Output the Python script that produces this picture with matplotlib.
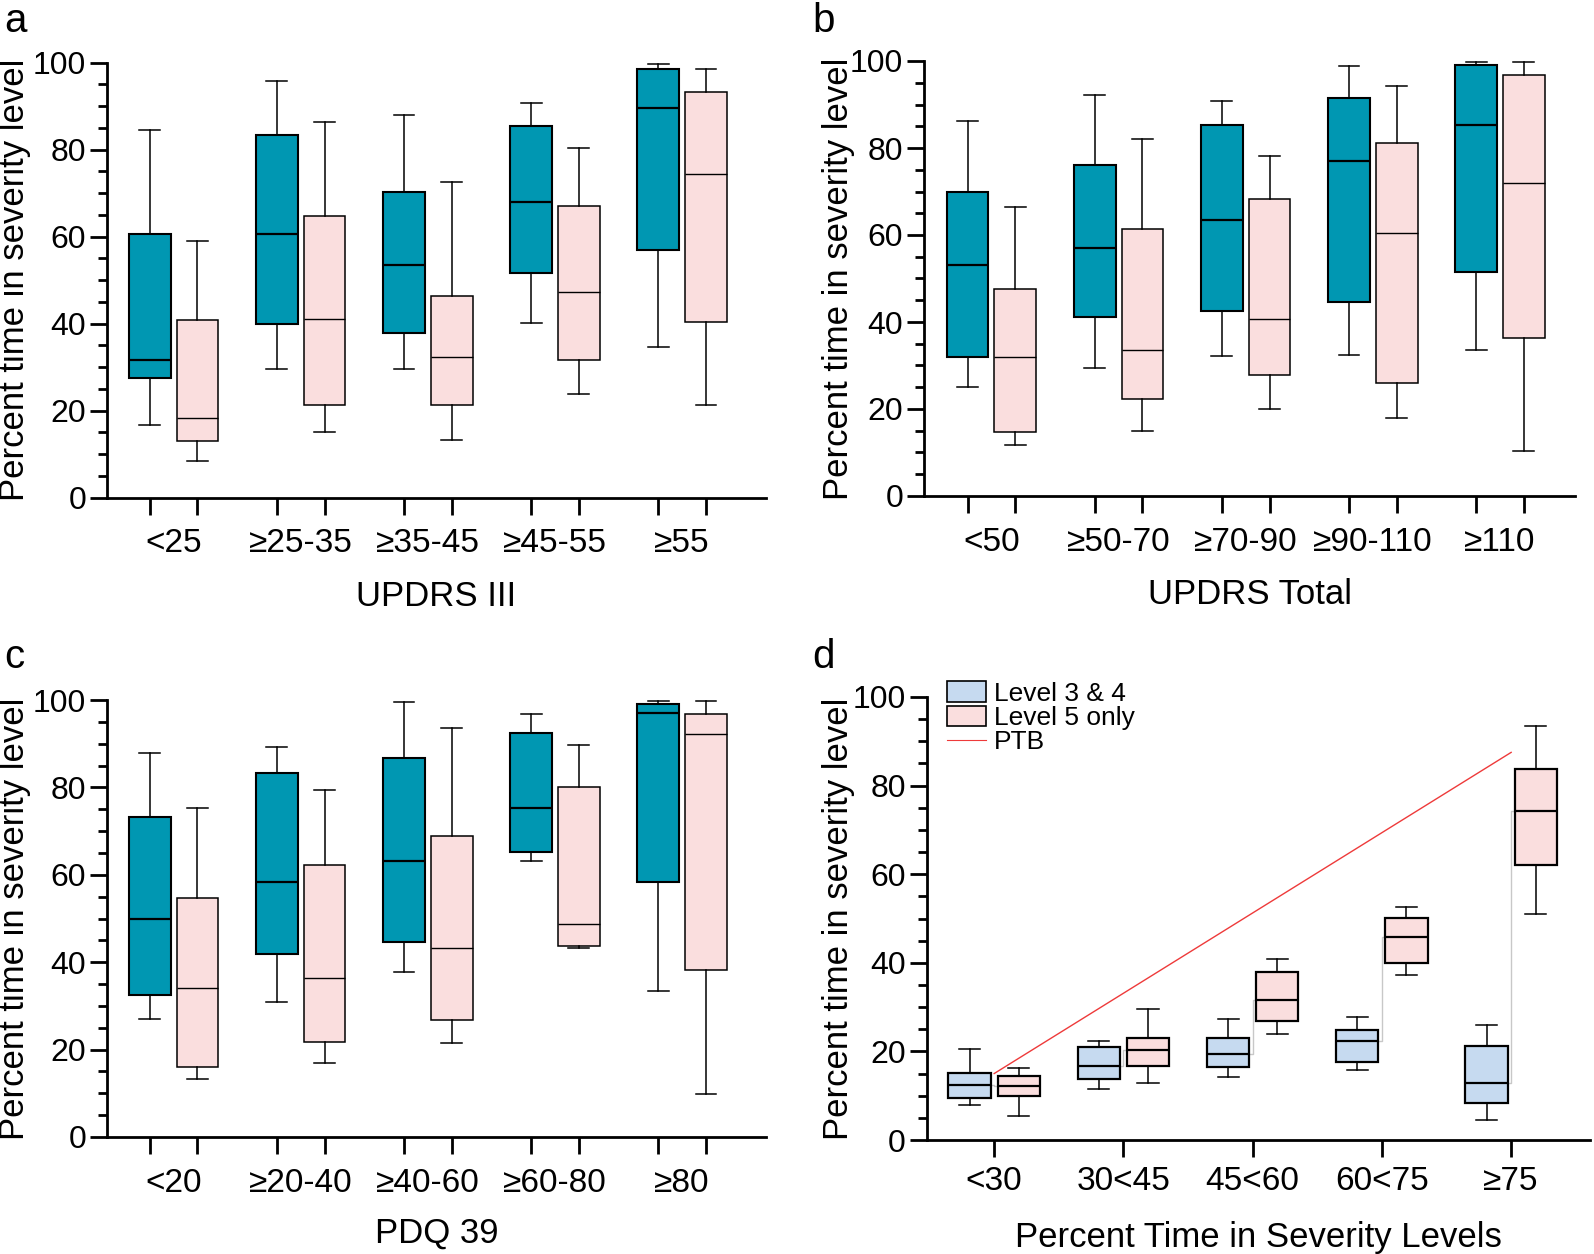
import numpy as np
import matplotlib
matplotlib.use("Agg")
import matplotlib.pyplot as plt
from matplotlib.ticker import FixedLocator, MultipleLocator, NullFormatter, FixedFormatter
from matplotlib.patches import Patch
from matplotlib.lines import Line2D

plt.rcParams['font.family'] = ['Liberation Sans', 'DejaVu Sans']

# box stats: (whisker low, Q1, median, Q3, whisker high)
updrs3_cats = ['<25', '≥25-35', '≥35-45', '≥45-55', '≥55']
updrs3_teal = [(16.6, 27.6, 31.6, 60.6, 84.5), (29.7, 40.0, 60.6, 83.3, 95.9),
               (29.7, 37.8, 53.4, 70.2, 87.9), (40.1, 51.6, 68.0, 85.4, 90.7),
               (34.7, 57.0, 89.5, 98.6, 99.8)]
updrs3_pink = [(8.5, 13.0, 18.4, 40.9, 59.0), (15.0, 21.3, 41.1, 64.7, 86.3),
               (13.3, 21.3, 32.4, 46.4, 72.6), (23.9, 31.7, 47.3, 67.0, 80.5),
               (21.3, 40.4, 74.4, 93.3, 98.6)]

updrs_total_cats = ['<50', '≥50-70', '≥70-90', '≥90-110', '≥110']
updrs_total_teal = [(25.1, 32.0, 53.2, 69.8, 86.1), (29.5, 41.1, 57.0, 76.2, 92.2),
                    (32.2, 42.6, 63.5, 85.3, 90.9), (32.5, 44.5, 77.0, 91.6, 98.9),
                    (33.5, 51.5, 85.3, 99.1, 99.7)]
updrs_total_pink = [(11.8, 14.7, 31.9, 47.6, 66.4), (14.9, 22.3, 33.6, 61.3, 82.0),
                    (19.9, 27.9, 40.8, 68.2, 78.1), (17.9, 25.9, 60.5, 81.2, 94.3),
                    (10.3, 36.3, 72.0, 96.8, 99.8)]

pdq_cats = ['<20', '≥20-40', '≥40-60', '≥60-80', '≥80']
pdq_teal = [(27.0, 32.5, 50.0, 73.2, 87.8), (30.8, 41.8, 58.3, 83.4, 89.2),
            (37.7, 44.7, 63.2, 86.8, 99.5), (63.1, 65.3, 75.2, 92.4, 96.9),
            (33.5, 58.3, 97.1, 99.1, 99.8)]
pdq_pink = [(13.2, 16.0, 34.1, 54.6, 75.2), (17.0, 21.8, 36.3, 62.2, 79.4),
            (21.6, 26.7, 43.2, 68.9, 93.7), (43.2, 43.8, 48.7, 80.0, 89.6),
            (9.8, 38.3, 92.3, 96.9, 99.8)]

ptb_cats = ['<30', '30<45', '45<60', '60<75', '≥75']
level34 = [(7.9, 9.4, 12.5, 15.1, 20.6), (11.6, 13.8, 16.8, 20.9, 22.4),
           (14.2, 16.5, 19.4, 23.1, 27.4), (15.7, 17.5, 22.4, 24.8, 27.8),
           (4.6, 8.3, 12.9, 21.3, 26.0)]
level5 = [(5.5, 9.9, 12.2, 14.4, 16.3), (12.9, 16.7, 20.4, 23.0, 29.6),
          (24.0, 26.8, 31.6, 37.9, 40.9), (37.2, 39.9, 45.9, 50.2, 52.5),
          (51.0, 62.1, 74.2, 83.8, 93.5)]
ptb_ends = [15.0, 87.5]  # PTB line value at first and last category

TEAL = '#0097b2'
PINK = '#fadede'
LBLUE = '#c6daf0'
RED = '#ee3a3a'

W, H = 1594, 1254
fig = plt.figure(figsize=(W / 100, H / 100), dpi=100)


def rect(x0, x1, ytop, ybot):
    return [x0 / W, 1 - ybot / H, (x1 - x0) / W, (ybot - ytop) / H]


def to_stats(rows):
    return [dict(whislo=r[0], q1=r[1], med=r[2], q3=r[3], whishi=r[4]) for r in rows]


def draw_boxes(ax, rows, pos, face, edge_lw, med_lw, width=0.328):
    art = ax.bxp(to_stats(rows), positions=pos, widths=width, capwidths=width / 2,
                 patch_artist=True, showfliers=False, manage_ticks=False,
                 boxprops=dict(facecolor=face, edgecolor='black', linewidth=edge_lw),
                 medianprops=dict(color='black', linewidth=med_lw),
                 whiskerprops=dict(color='black', linewidth=1.1),
                 capprops=dict(color='black', linewidth=1.1))
    for group in art.values():
        for a in group:
            a.set_clip_on(False)
            a.set_zorder(3)


def style_axes(ax, ylabel, minor_step, label_x):
    for s in ['top', 'right']:
        ax.spines[s].set_visible(False)
    for s in ['left', 'bottom']:
        ax.spines[s].set_linewidth(2)
    ax.set_ylim(0, 100)
    ax.yaxis.set_major_locator(MultipleLocator(20))
    ax.yaxis.set_minor_locator(MultipleLocator(minor_step))
    ax.tick_params(axis='y', which='major', length=12, width=2, labelsize=23, pad=3)
    ax.tick_params(axis='y', which='minor', length=6.5, width=2)
    ax.set_ylabel(ylabel, fontsize=25)
    # x is where the label's right side sits, in axes fraction
    ax.yaxis.set_label_coords(label_x, 0.5)


def pair_panel(rect_px, cats, teal, pink, xlabel, xlim, label_x, xlabelpad):
    ax = fig.add_axes(rect(*rect_px))
    x = np.arange(len(cats))
    draw_boxes(ax, teal, x - 0.1875, TEAL, 1.5, 1.6)
    draw_boxes(ax, pink, x + 0.1875, PINK, 1.1, 1.0)
    style_axes(ax, 'Percent time in severity level', 5, label_x)
    ax.set_xlim(*xlim)
    ax.xaxis.set_major_locator(FixedLocator(np.concatenate([x - 0.1875, x + 0.1875])))
    ax.xaxis.set_major_formatter(NullFormatter())
    ax.xaxis.set_minor_locator(FixedLocator(x))
    ax.xaxis.set_minor_formatter(FixedFormatter(cats))
    ax.tick_params(axis='x', which='minor', length=0, labelsize=24, pad=22)
    ax.tick_params(axis='x', which='major', length=12, width=2)
    ax.set_xlabel(xlabel, fontsize=25, labelpad=xlabelpad)
    return ax


pair_panel((107, 766, 62.7, 497.7), updrs3_cats, updrs3_teal, updrs3_pink,
           'UPDRS III', (-0.524, 4.66), -0.115, 15)
pair_panel((924, 1575, 61, 496), updrs_total_cats, updrs_total_teal, updrs_total_pink,
           'UPDRS Total', (-0.53, 4.59), -0.106, 15)
pair_panel((107, 766, 700, 1137), pdq_cats, pdq_teal, pdq_pink,
           'PDQ 39', (-0.524, 4.66), -0.115, 13)

# panel d
ax = fig.add_axes(rect(926.7, 1590, 697, 1140))
x = np.arange(len(ptb_cats))
draw_boxes(ax, level34, x - 0.19, LBLUE, 1.6, 1.6, width=0.327)
draw_boxes(ax, level5, x + 0.19, PINK, 1.6, 1.6, width=0.327)
meds34 = [r[2] for r in level34]
meds5 = [r[2] for r in level5]
for i in x:
    ax.plot([i - 0.025, i, i, i + 0.025], [meds34[i], meds34[i], meds5[i], meds5[i]],
            color='#c8c8c8', lw=1.0, zorder=2)
ax.plot([x[0], x[-1]], ptb_ends, color=RED, lw=1.0, zorder=4)
style_axes(ax, 'Percent time in severity level', 5, -0.108)
ax.set_xlim(-0.522, 4.61)
ax.set_xticks(x)
ax.set_xticklabels(ptb_cats)
ax.tick_params(axis='x', which='major', length=12, width=2, labelsize=24, pad=7)
ax.set_xlabel('Percent Time in Severity Levels', fontsize=25, labelpad=17)
handles = [Patch(facecolor=LBLUE, edgecolor='black', linewidth=1.2),
           Patch(facecolor=PINK, edgecolor='black', linewidth=1.2),
           Line2D([], [], color=RED, lw=0.8)]
ax.legend(handles, ['Level 3 & 4', 'Level 5 only', 'PTB'], loc='upper left',
          bbox_to_anchor=(0.03, 1.035), frameon=False, fontsize=19, labelspacing=0.0,
          handlelength=1.5, handleheight=0.8, handletextpad=0.3, borderpad=0,
          borderaxespad=0)

for lab, fx, fy in [('a', 4, 2), ('b', 812, 2), ('c', 4, 638), ('d', 812, 638)]:
    fig.text(fx / W, 1 - fy / H, lab, fontsize=29, va='top', ha='left')

fig.savefig('out.png', dpi=100)
